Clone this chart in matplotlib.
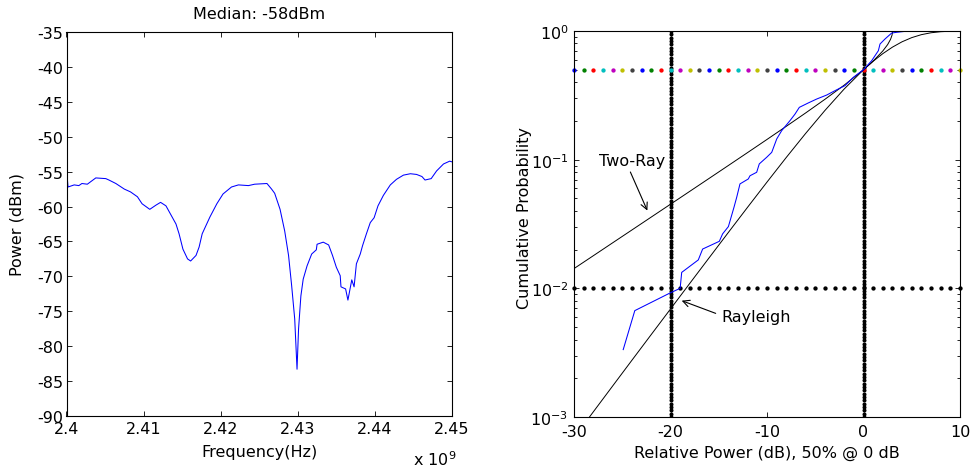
import numpy as np
import matplotlib
matplotlib.use("Agg")
import matplotlib.pyplot as plt
from matplotlib.ticker import LogLocator, NullFormatter, FixedLocator

plt.rcParams["font.family"] = "DejaVu Sans"
plt.rcParams["font.size"] = 11.5
plt.rcParams["axes.unicode_minus"] = False

# --- measured spectrum (left panel) ---
freq_ghz = [2.4000, 2.4002, 2.4010, 2.4016, 2.4020, 2.4027, 2.4038, 2.4051, 2.4055,
            2.4064, 2.4075, 2.4083, 2.4092, 2.4098, 2.4108, 2.4116, 2.4122, 2.4129,
            2.4135, 2.4142, 2.4146, 2.4151, 2.4157, 2.4161, 2.4168, 2.4172, 2.4176,
            2.4186, 2.4195, 2.4203, 2.4214, 2.4223, 2.4236, 2.4244, 2.4260, 2.4266,
            2.4270, 2.4277, 2.4283, 2.4288, 2.4292, 2.4296, 2.4299, 2.4301, 2.4304,
            2.4307, 2.4312, 2.4318, 2.4324, 2.4325, 2.4333, 2.4340, 2.4342, 2.4345,
            2.4350, 2.4355, 2.4356, 2.4362, 2.4365, 2.4370, 2.4373, 2.4376, 2.4381,
            2.4384, 2.4389, 2.4394, 2.4399, 2.4404, 2.4411, 2.4420, 2.4428, 2.4437,
            2.4446, 2.4454, 2.4461, 2.4465, 2.4473, 2.4480, 2.4489, 2.4497, 2.4500]
power_dbm = [-54.6, -57.2, -56.9, -57.0, -56.7, -56.8, -55.9, -56.0, -56.2,
             -56.7, -57.5, -57.9, -58.6, -59.6, -60.4, -59.8, -59.4, -59.9,
             -61.1, -62.5, -63.9, -66.1, -67.5, -67.8, -67.0, -65.8, -63.9,
             -61.5, -59.6, -58.2, -57.2, -56.9, -57.0, -56.8, -56.7, -57.5,
             -58.1, -60.4, -63.5, -67.0, -71.3, -76.1, -83.3, -77.5, -72.8,
             -70.4, -68.5, -66.8, -66.2, -65.4, -65.1, -65.5, -66.1, -67.0,
             -68.7, -69.9, -71.5, -71.8, -73.4, -70.5, -71.5, -68.2, -66.8,
             -65.6, -63.9, -62.3, -61.6, -59.9, -58.4, -56.9, -56.1, -55.5,
             -55.3, -55.4, -55.7, -56.2, -56.0, -54.9, -53.9, -53.5, -53.6]
median_dbm = -58

# --- fading statistics (right panel) ---
meas_db = [-24.9, -23.7, -20.05, -19.0, -18.84, -17.12, -16.67, -14.94, -14.6, -14.0,
           -13.42, -13.14, -12.8, -11.94, -11.76, -11.07, -10.8, -10.03, -9.51, -8.99,
           -8.48, -7.62, -7.1, -6.65, -5.72, -4.85, -3.81, -2.95, -1.92, -1.06,
           0.0, 0.85, 1.54, 1.71, 2.23, 2.92, 3.44, 4.64]
meas_cdf = [0.00334, 0.00671, 0.0092, 0.0100, 0.0133, 0.01663, 0.0202, 0.0232, 0.0265, 0.0302,
            0.0427, 0.051, 0.0648, 0.0708, 0.075, 0.0798, 0.0927, 0.1044, 0.114, 0.145,
            0.168, 0.201, 0.226, 0.255, 0.276, 0.296, 0.318, 0.344, 0.376, 0.436,
            0.5, 0.588, 0.703, 0.792, 0.867, 0.964, 0.977, 1.0]

rayleigh_db = [-29, -26, -24, -22, -20, -18, -16, -14, -12, -10, -8, -6, -4, -2,
               0, 1, 2, 3, 4, 5, 6, 7, 8, 9, 10]
rayleigh_cdf = [0.00087, 0.00174, 0.00276, 0.00437, 0.00691, 0.01093, 0.01726, 0.02721,
                0.04279, 0.06696, 0.1041, 0.1598, 0.2411, 0.3543, 0.5, 0.582, 0.6667,
                0.7492, 0.8247, 0.8883, 0.9367, 0.969, 0.9874, 0.9959, 0.999]

tworay_db = [-30, -28, -26, -24, -22, -20, -18, -16, -14, -12, -10, -8, -6, -4, -2,
             0, 1, 2, 2.5, 2.8, 2.95, 3.0, 3.01, 10]
tworay_cdf = [0.01424, 0.01792, 0.02257, 0.02841, 0.03578, 0.04505, 0.05675, 0.0715,
              0.09013, 0.1137, 0.1436, 0.1817, 0.2306, 0.2944, 0.3796, 0.5, 0.5836,
              0.6993, 0.7838, 0.8605, 0.9252, 0.9687, 1.0, 1.0]

ref_levels_db = [-20, 0]
ref_prob = 0.01
median_prob = 0.5
dot_db = list(range(-30, 11))

matlab_colors = [(0, 0, 1), (0, 0.5, 0), (1, 0, 0), (0, 0.75, 0.75),
                 (0.75, 0, 0.75), (0.75, 0.75, 0), (0.25, 0.25, 0.25)]

fig = plt.figure(figsize=(9.72, 4.77), dpi=100)
ax1 = fig.add_axes([66.5 / 972, 60 / 477, 385.5 / 972, 384 / 477])
ax2 = fig.add_axes([574 / 972, 59 / 477, 386 / 972, 386 / 477])

# left: power spectrum
ax1.plot(np.array(freq_ghz) * 1e9, power_dbm, color="b", lw=0.75)
ax1.set_xlim(2.4e9, 2.45e9)
ax1.set_ylim(-90, -35)
xt = [2.40e9, 2.41e9, 2.42e9, 2.43e9, 2.44e9, 2.45e9]
ax1.set_xticks(xt)
ax1.set_xticklabels(["2.4", "2.41", "2.42", "2.43", "2.44", "2.45"])
ax1.set_yticks(range(-90, -34, 5))
ax1.set_title("Median: %ddBm" % median_dbm, fontsize=11.5, pad=10)
ax1.set_xlabel("Frequency(Hz)")
ax1.set_ylabel("Power (dBm)")
ax1.xaxis.set_label_coords(0.5, -0.073)
ax1.yaxis.set_label_coords(-0.108, 0.5)
ax1.text(0.899, -0.086, r"x 10$^9$", transform=ax1.transAxes, ha="left", va="top")

# right: CDF on log scale
ax2.set_yscale("log")
for x in ref_levels_db:
    ax2.plot([x] * 117, np.logspace(-3, 0, 117), ls="none", marker=".",
             ms=3.8, color="k")
ax2.plot(dot_db, [ref_prob] * len(dot_db), ls="none", marker=".", ms=4.2,
         color="k", clip_on=False)
for i, x in enumerate(dot_db):
    ax2.plot([x], [median_prob], ls="none", marker=".", ms=4.2,
             color=matlab_colors[i % len(matlab_colors)], clip_on=False)
ax2.plot(rayleigh_db, rayleigh_cdf, color="k", lw=0.7)
ax2.plot(tworay_db, tworay_cdf, color="k", lw=0.7)
ax2.plot(meas_db, meas_cdf, color="b", lw=0.75)

ax2.set_xlim(-30, 10)
ax2.set_ylim(1e-3, 1)
ax2.set_xticks([-30, -20, -10, 0, 10])
ax2.yaxis.set_major_locator(FixedLocator([1e-3, 1e-2, 1e-1, 1]))
ax2.yaxis.set_minor_locator(LogLocator(base=10, subs=np.arange(2, 10), numticks=20))
ax2.yaxis.set_minor_formatter(NullFormatter())
ax2.set_xlabel("Relative Power (dB), 50% @ 0 dB")
ax2.set_ylabel("Cumulative Probability")
ax2.xaxis.set_label_coords(0.5, -0.073)
ax2.yaxis.set_label_coords(-0.109, 0.518)

arrow = dict(arrowstyle="->", color="k", lw=0.8, mutation_scale=12)
ax2.annotate("Two-Ray", xy=(-22.4, 0.0402), xytext=(-24.0, 0.0986),
             ha="center", va="center",
             arrowprops=dict(arrow, relpos=(0.45, 0.0), shrinkA=1, shrinkB=0))
ax2.annotate("Rayleigh", xy=(-18.84, 0.00802), xytext=(-11.16, 0.0060),
             ha="center", va="center",
             arrowprops=dict(arrow, relpos=(0.0, 0.6), shrinkA=2, shrinkB=0))

for ax in (ax1, ax2):
    for s in ax.spines.values():
        s.set_linewidth(0.8)
    ax.tick_params(which="both", direction="in", top=True, right=True, width=0.6)
    ax.tick_params(which="major", length=3.3)
    ax.tick_params(which="minor", length=2.0)
ax1.tick_params(axis="y", pad=2.5)
ax1.tick_params(axis="x", pad=3.5)
ax2.tick_params(axis="y", pad=4)
ax2.tick_params(axis="x", pad=5)

fig.savefig("out.png", dpi=100)
